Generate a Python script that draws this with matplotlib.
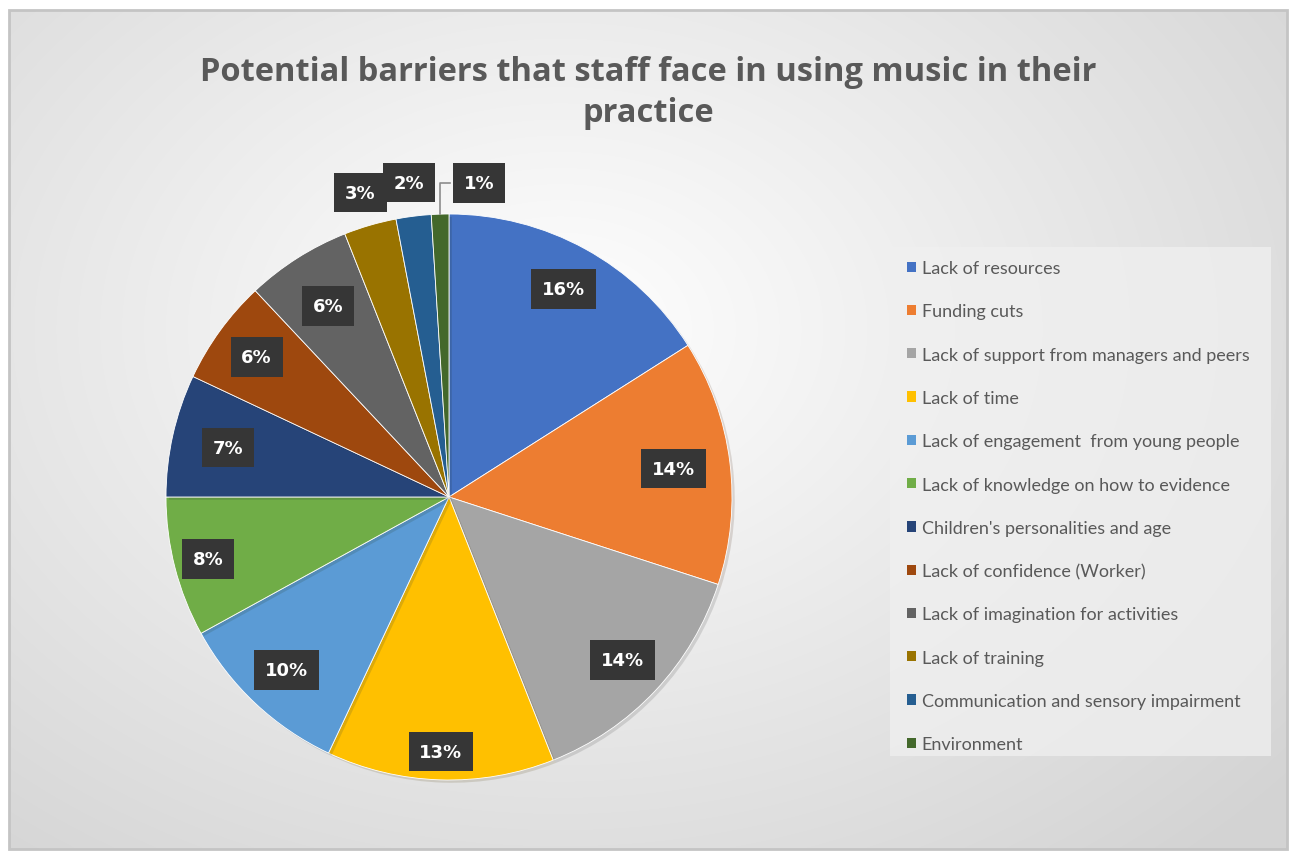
import numpy as np
import matplotlib
matplotlib.use("Agg")
import matplotlib.pyplot as plt
from matplotlib.patches import Rectangle
import matplotlib.patheffects as pe

categories = ["Lack of resources", "Funding cuts", "Lack of support from managers and peers",
              "Lack of time", "Lack of engagement  from young people",
              "Lack of knowledge on how to evidence", "Children's personalities and age",
              "Lack of confidence (Worker)", "Lack of imagination for activities",
              "Lack of training", "Communication and sensory impairment", "Environment"]
values = [16, 14, 14, 13, 10, 8, 7, 6, 6, 3, 2, 1]
colors = ["#4472C4", "#ED7D31", "#A5A5A5", "#FFC000", "#5B9BD5", "#70AD47",
          "#264478", "#9E480E", "#636363", "#997300", "#255E91", "#43682B"]
label_dist = [0.84, 0.80, 0.84, 0.90, 0.84, 0.88, 0.80, 0.84, 0.80, 1.12, 1.12, 1.11]
title = "Potential barriers that staff face in using music in their\npractice"

W, H = 1291, 854
fig = plt.figure(figsize=(W / 100, H / 100), dpi=100)
fig.patch.set_facecolor("white")

# background radial gradient inside frame
bg = fig.add_axes([0, 0, 1, 1], zorder=0)
bg.set_xlim(0, W); bg.set_ylim(H, 0); bg.axis("off")
x0, y0, x1, y1 = 9, 11, 1287, 850
yy, xx = np.mgrid[y0:y1, x0:x1]
cx, cy = 560, 330
d = np.sqrt(((xx - cx) / 760.0) ** 2 + ((yy - cy) / 560.0) ** 2)
v = 1.0 - 0.17 * np.clip(d, 0, 1.25) / 1.25
img = np.dstack([v, v, v])
bg.imshow(img, extent=(x0, x1, y1, y0), aspect="auto", interpolation="bilinear")
bg.add_patch(Rectangle((x0, y0), x1 - x0, y1 - y0, fill=False, edgecolor="#c4c4c4", lw=2))
# legend background box
bg.add_patch(Rectangle((890, 248), 381, 509, facecolor="#f0f0f0", edgecolor="none", alpha=0.75))

# title
fig.text(648 / W, 1 - 93 / H, title, ha="center", va="center", fontsize=23.5,
         fontweight="bold", color="#595959", family="Open Sans", linespacing=1.35)

# pie
pcx, pcy, R = 449, 498, 283
ax = fig.add_axes([(pcx - R) / W, 1 - (pcy + R) / H, 2 * R / W, 2 * R / H], zorder=2)
wedges, _ = ax.pie(values, colors=colors, startangle=90, counterclock=False, radius=1,
                   wedgeprops=dict(edgecolor="white", linewidth=0.6,
                                   path_effects=[pe.SimplePatchShadow(offset=(2, -2), alpha=0.15),
                                                 pe.Normal()]))
ax.set_xlim(-1, 1); ax.set_ylim(-1, 1); ax.set_aspect("equal")

for w, val, dist in zip(wedges, values, label_dist):
    ang = np.deg2rad((w.theta1 + w.theta2) / 2)
    lx, ly = dist * np.cos(ang), dist * np.sin(ang)
    if val == 1:
        lx = lx + 0.14
    ax.text(lx, ly, f"{val}%", ha="center", va="center", color="white", fontsize=13,
            fontweight="bold", family="DejaVu Sans", clip_on=False, zorder=5,
            bbox=dict(boxstyle="square,pad=0.6", facecolor="#363636", edgecolor="none"))
    if val == 1:
        ex, ey = np.cos(ang), np.sin(ang)
        ax.plot([ex, ex, lx - 0.1], [ey, ly, ly], color="#8c8c8c", lw=1.2,
                clip_on=False, zorder=4)

# legend
handles = [Rectangle((0, 0), 1, 1, facecolor=c) for c in colors]
leg = fig.legend(handles, categories, loc="upper left",
                 bbox_to_anchor=(900 / W, 1 - 254 / H), frameon=False,
                 prop=dict(family="Lato", size=13), labelcolor="#595959",
                 handlelength=0.5, handleheight=0.5, handletextpad=0.3,
                 labelspacing=1.51, borderaxespad=0)

fig.savefig("out.png", dpi=100)
